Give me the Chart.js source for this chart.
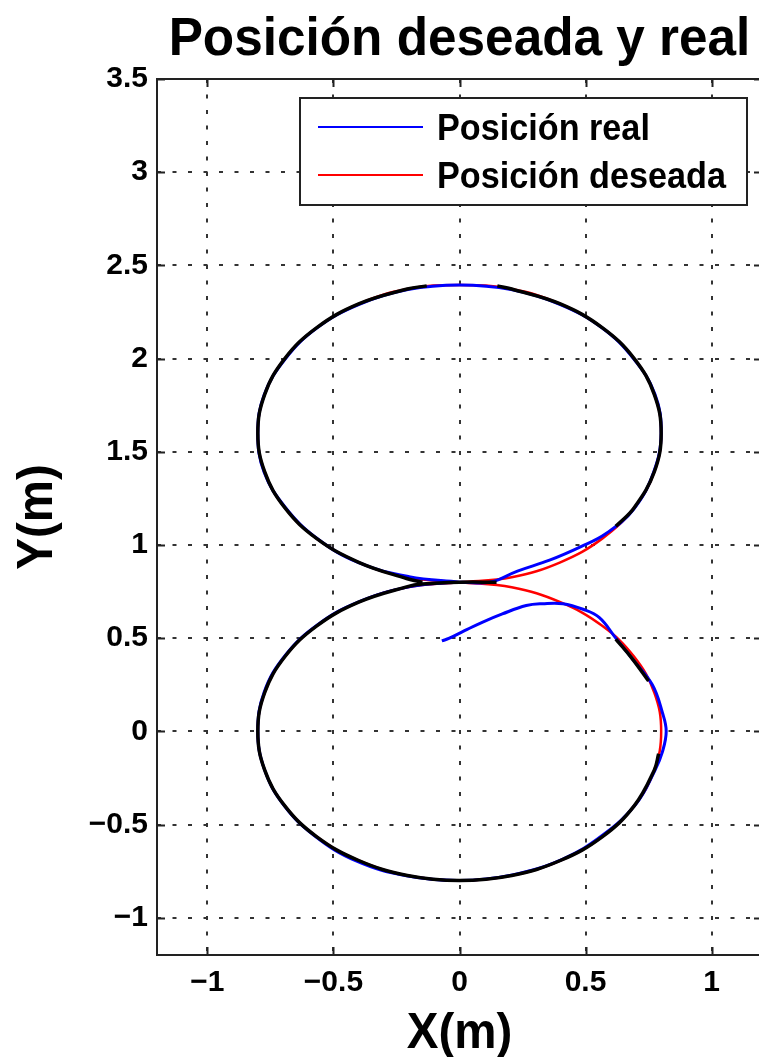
<!DOCTYPE html>
<html>
<head>
<meta charset="utf-8">
<title>Posición deseada y real</title>
<script src="https://cdn.jsdelivr.net/npm/chart.js@4.4.1/dist/chart.umd.min.js"></script>
<style>
html, body { margin: 0; padding: 0; background: #fff; overflow: hidden; }
#wrap { width: 764px; height: 1057px; }
</style>
</head>
<body>
<div id="wrap"><canvas id="myChart"></canvas></div>
<script>
// text
var chartTitle = 'Posición deseada y real';
var xTitle = 'X(m)';
var yTitle = 'Y(m)';

// ticks
var xTicks = [-1, -0.5, 0, 0.5, 1];
var yTicks = [-1, -0.5, 0, 0.5, 1, 1.5, 2, 2.5, 3, 3.5];

// desired trajectory (red): lower loop clockwise, then upper loop counter-clockwise
var desX = [0, 0.207, 0.4, 0.566, 0.693, 0.773, 0.8, 0.773, 0.693, 0.566, 0.4, 0.207, 0,
            -0.207, -0.4, -0.566, -0.693, -0.773, -0.8, -0.773, -0.693, -0.566, -0.4, -0.207, 0,
            0.207, 0.4, 0.566, 0.693, 0.773, 0.8, 0.773, 0.693, 0.566, 0.4, 0.207, 0,
            -0.207, -0.4, -0.566, -0.693, -0.773, -0.8, -0.773, -0.693, -0.566, -0.4, -0.207, 0];
var desY = [0.8, 0.773, 0.693, 0.566, 0.4, 0.207, 0, -0.207, -0.4, -0.566, -0.693, -0.773, -0.8,
            -0.773, -0.693, -0.566, -0.4, -0.207, 0, 0.207, 0.4, 0.566, 0.693, 0.773, 0.8,
            0.827, 0.907, 1.034, 1.2, 1.393, 1.6, 1.807, 2.0, 2.166, 2.293, 2.373, 2.395,
            2.373, 2.293, 2.166, 2.0, 1.807, 1.6, 1.393, 1.2, 1.034, 0.907, 0.827, 0.8];

// real position (blue)
var realX = [-0.07, -0.04, 0.02, 0.09, 0.17, 0.265, 0.33, 0.41, 0.49, 0.555, 0.62, 0.685, 0.765, 0.805, 0.82, 0.805,
             0.775, 0.7, 0.57, 0.41, 0.21, 0, -0.21, -0.41, -0.575, -0.7, -0.775, -0.8, -0.775, -0.69, -0.56, -0.4, -0.2, 0,
             0.12, 0.23, 0.36, 0.48, 0.58, 0.69, 0.77, 0.8, 0.775, 0.69, 0.565, 0.4, 0.205, 0,
             -0.205, -0.4, -0.565, -0.69, -0.775, -0.8, -0.775, -0.69, -0.565, -0.4, -0.2, 0];
var realY = [0.485, 0.5, 0.54, 0.585, 0.63, 0.675, 0.685, 0.685, 0.655, 0.61, 0.5, 0.39, 0.25, 0.1, 0, -0.11,
             -0.21, -0.39, -0.555, -0.685, -0.77, -0.8, -0.775, -0.695, -0.56, -0.39, -0.2, 0, 0.21, 0.41, 0.575, 0.695, 0.775, 0.8,
             0.8, 0.86, 0.92, 0.99, 1.06, 1.19, 1.39, 1.6, 1.81, 2.0, 2.165, 2.29, 2.37, 2.395,
             2.37, 2.29, 2.165, 2.0, 1.805, 1.6, 1.39, 1.2, 1.035, 0.905, 0.83, 0.8];

// second pass of the tracked path (black, no legend entry), null = gap
var trackX = [0.62, 0.685, 0.75, null, 0.79, 0.773, 0.693, 0.566, 0.4, 0.207, 0, -0.207, -0.4, -0.566, -0.693, -0.773, -0.8,
              -0.773, -0.693, -0.566, -0.4, -0.21, -0.147, 0, 0.147, null,
              0.62, 0.693, 0.773, 0.8, 0.773, 0.693, 0.566, 0.4, 0.207, 0.15, null,
              -0.13, -0.207, -0.4, -0.566, -0.693, -0.773, -0.8, -0.773, -0.693, -0.566, -0.4, -0.21, -0.147];
var trackY = [0.495, 0.39, 0.27, null, -0.12, -0.207, -0.4, -0.566, -0.693, -0.773, -0.8, -0.773, -0.693, -0.566, -0.4, -0.207, 0,
              0.207, 0.4, 0.566, 0.693, 0.775, 0.79, 0.8, 0.8, null,
              1.1, 1.2, 1.393, 1.6, 1.807, 2.0, 2.166, 2.293, 2.373, 2.39, null,
              2.39, 2.373, 2.293, 2.166, 2.0, 1.807, 1.6, 1.393, 1.2, 1.034, 0.907, 0.82, 0.8];

function toPoints(xs, ys) {
  return xs.map(function (x, i) { return { x: x, y: ys[i] }; });
}

function minus(v) {
  return String(v).replace('-', '\u2212');
}

var FONT = '"Liberation Sans", Arial, Helvetica, sans-serif';

function drawText(ctx, text, x, y, size, align, sx) {
  ctx.save();
  ctx.translate(x, y);
  ctx.scale(sx, 1);
  ctx.font = 'bold ' + size + 'px ' + FONT;
  ctx.textAlign = align;
  ctx.textBaseline = 'alphabetic';
  ctx.fillStyle = '#000';
  ctx.fillText(text, 0, 0);
  ctx.restore();
}

// matlab style box, inward ticks, legend and labels
var matlabAxes = {
  id: 'matlabAxes',
  afterDraw: function (chart) {
    var ctx = chart.ctx;
    var a = chart.chartArea;
    var xs = chart.scales.x, ys = chart.scales.y;
    ctx.save();
    ctx.strokeStyle = '#222';
    ctx.lineWidth = 2;
    ctx.strokeRect(a.left, a.top, a.right - a.left, a.bottom - a.top);
    ctx.beginPath();
    xs.ticks.forEach(function (t) {
      var px = Math.round(xs.getPixelForValue(t.value)) + 0.5;
      ctx.moveTo(px, a.bottom); ctx.lineTo(px, a.bottom - 8);
      ctx.moveTo(px, a.top); ctx.lineTo(px, a.top + 8);
    });
    ys.ticks.forEach(function (t) {
      var py = Math.round(ys.getPixelForValue(t.value)) + 0.5;
      ctx.moveTo(a.left, py); ctx.lineTo(a.left + 8, py);
      ctx.moveTo(a.right, py); ctx.lineTo(a.right - 8, py);
    });
    ctx.stroke();

    // legend
    var lx = 300, ly = 98, lw = 447, lh = 107;
    ctx.fillStyle = '#fff';
    ctx.fillRect(lx, ly, lw, lh);
    ctx.strokeStyle = '#222';
    ctx.lineWidth = 2;
    ctx.strokeRect(lx, ly, lw, lh);
    var rowY = [127, 175];
    var items = chart.data.datasets.filter(function (d) { return d.label; });
    items.forEach(function (d, i) {
      ctx.strokeStyle = d.borderColor;
      ctx.lineWidth = 2;
      ctx.beginPath();
      ctx.moveTo(318, rowY[i]);
      ctx.lineTo(423, rowY[i]);
      ctx.stroke();
      drawText(ctx, d.label, 437, rowY[i] + 13, 36, 'left', 0.95);
    });

    // title and axis labels
    drawText(ctx, chartTitle, (a.left + a.right) / 2, 55, 54, 'center', 0.95);
    drawText(ctx, xTitle, (a.left + a.right) / 2, 1048, 50, 'center', 0.95);
    ctx.save();
    ctx.translate(52, (a.top + a.bottom) / 2);
    ctx.rotate(-Math.PI / 2);
    drawText(ctx, yTitle, 0, 0, 50, 'center', 0.95);
    ctx.restore();
    ctx.restore();
  }
};

var gridDots = {
  display: true,
  color: '#333',
  lineWidth: 2,
  drawTicks: false
};

var ctx = document.getElementById('myChart').getContext('2d');
var chart = new Chart(ctx, {
  type: 'scatter',
  data: {
    datasets: [{
      label: '',
      data: toPoints(trackX, trackY),
      borderColor: '#000000',
      borderWidth: 3.5,
      order: 0
    }, {
      label: 'Posición real',
      data: toPoints(realX, realY),
      borderColor: '#0000ff',
      borderWidth: 3,
      order: 1
    }, {
      label: 'Posición deseada',
      data: toPoints(desX, desY),
      borderColor: '#ff0000',
      borderWidth: 2.5,
      order: 2
    }]
  },
  options: {
    responsive: true,
    maintainAspectRatio: false,
    animation: false,
    layout: { padding: { top: 79, left: 0, right: 2, bottom: 0 } },
    elements: {
      line: { tension: 0.4, fill: false },
      point: { radius: 0, hoverRadius: 0 }
    },
    datasets: { scatter: { showLine: true, spanGaps: false } },
    plugins: {
      legend: { display: false },
      title: { display: false },
      tooltip: { enabled: false }
    },
    scales: {
      x: {
        type: 'linear',
        min: -1.2,
        max: 1.2,
        afterBuildTicks: function (s) { s.ticks = xTicks.map(function (v) { return { value: v }; }); },
        afterFit: function (s) { s.height = 102; },
        grid: gridDots,
        border: { display: false, dash: [4, 11.5] },
        ticks: {
          color: '#000',
          padding: 10,
          maxRotation: 0,
          font: { family: FONT, size: 30, weight: 'bold' },
          callback: function (v) { return minus(v); }
        }
      },
      y: {
        type: 'linear',
        min: -1.2,
        max: 3.5,
        afterBuildTicks: function (s) { s.ticks = yTicks.map(function (v) { return { value: v }; }); },
        afterFit: function (s) { s.width = 157; },
        grid: gridDots,
        border: { display: false, dash: [4, 11.5] },
        ticks: {
          color: '#000',
          padding: 9,
          font: { family: FONT, size: 30, weight: 'bold' },
          callback: function (v) { return minus(v); }
        }
      }
    }
  },
  plugins: [matlabAxes]
});
</script>
</body>
</html>
